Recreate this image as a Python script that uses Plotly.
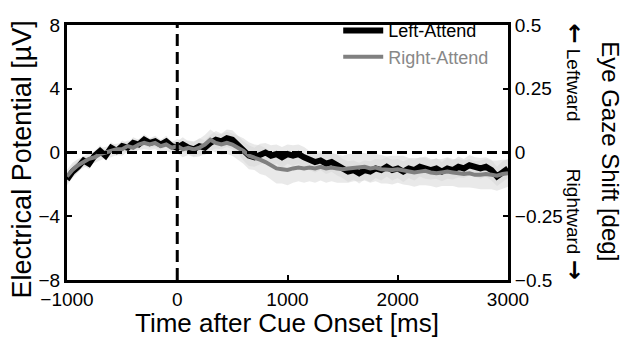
import plotly.graph_objects as go

# ---- data (µV, 50 ms grid) ----
time_ms = list(range(-1000, 3001, 50))

left_attend = [
    -1.7, -1.2, -0.9, -0.5, -0.7, -0.2, 0.1, -0.2, 0.3, 0.1,
    0.4, 0.3, 0.6, 0.5, 0.8, 0.6, 0.7, 0.5, 0.7, 0.4,
    0.3, 0.5, 0.3, 0.2, 0.4, 0.3, 0.6, 0.8, 0.7, 0.9,
    0.8, 0.5, 0.1, -0.2, -0.3, -0.1, 0.0, -0.2, -0.1, -0.3,
    -0.1, -0.2, -0.1, -0.3, -0.5, -0.6, -0.5, -0.7, -0.6, -0.8,
    -1.0, -1.2, -1.1, -1.3, -1.1, -1.2, -1.0, -1.1, -0.9, -1.1,
    -1.0, -1.2, -1.0, -1.1, -0.9, -1.0, -1.1, -1.0, -1.2, -1.0,
    -1.1, -0.9, -1.0, -0.8, -0.9, -1.0, -0.9, -1.1, -1.5, -1.2,
    -1.0,
]

right_attend = [
    -1.5, -1.1, -0.8, -0.6, -0.4, -0.3, -0.1, 0.0, 0.1, 0.2,
    0.2, 0.4, 0.3, 0.5, 0.6, 0.5, 0.6, 0.4, 0.5, 0.3,
    0.4, 0.2, 0.3, 0.2, 0.3, 0.5, 0.8, 0.6, 0.5, 0.6,
    0.5, 0.3, 0.1, -0.2, -0.3, -0.45, -0.6, -0.8, -1.0, -1.05,
    -1.1, -1.0, -0.95, -1.0, -0.95, -1.0, -0.9, -1.0, -0.95, -1.0,
    -1.05, -1.0, -0.95, -0.9, -0.9, -1.0, -0.95, -1.05, -1.1, -1.1,
    -1.05, -1.1, -1.2, -1.25, -1.2, -1.15, -1.25, -1.3, -1.25, -1.2,
    -1.25, -1.3, -1.35, -1.3, -1.4, -1.4, -1.35, -1.4, -1.45, -1.35,
    -1.3,
]

left_sem = [
    0.35, 0.4, 0.35, 0.3, 0.35, 0.3, 0.35, 0.3, 0.35, 0.3,
    0.35, 0.3, 0.35, 0.3, 0.35, 0.3, 0.35, 0.3, 0.35, 0.3,
    0.4, 0.45, 0.4, 0.45, 0.5, 0.45, 0.5, 0.55, 0.5, 0.55,
    0.6, 0.55, 0.6, 0.65, 0.6, 0.65, 0.6, 0.65, 0.6, 0.65,
    0.6, 0.65, 0.6, 0.65, 0.6, 0.65, 0.6, 0.65, 0.6, 0.65,
    0.6, 0.65, 0.6, 0.65, 0.6, 0.65, 0.6, 0.65, 0.6, 0.65,
    0.6, 0.65, 0.6, 0.65, 0.6, 0.65, 0.6, 0.65, 0.6, 0.65,
    0.6, 0.65, 0.6, 0.65, 0.6, 0.65, 0.6, 0.65, 0.6, 0.65,
    0.6,
]

right_sem = [
    0.4, 0.45, 0.4, 0.35, 0.4, 0.35, 0.4, 0.35, 0.4, 0.35,
    0.4, 0.35, 0.4, 0.35, 0.4, 0.35, 0.4, 0.35, 0.4, 0.35,
    0.45, 0.5, 0.45, 0.5, 0.55, 0.6, 0.65, 0.6, 0.65, 0.7,
    0.7, 0.75, 0.8, 0.85, 0.8, 0.9, 0.85, 0.9, 0.95, 0.9,
    0.95, 0.9, 0.85, 0.9, 0.85, 0.9, 0.85, 0.9, 0.85, 0.9,
    0.85, 0.9, 0.85, 0.9, 0.85, 0.9, 0.85, 0.9, 0.85, 0.9,
    0.85, 0.9, 0.85, 0.9, 0.85, 0.9, 0.85, 0.9, 0.85, 0.9,
    0.85, 0.9, 0.85, 0.9, 0.85, 0.9, 0.95, 0.9, 0.95, 0.9,
    0.85,
]

x_ticks = [-1000, 0, 1000, 2000, 3000]
y_ticks = [-8, -4, 0, 4, 8]
y2_ticks = [-0.5, -0.25, 0, 0.25, 0.5]

FONT = "Liberation Sans, Arial, Helvetica, sans-serif"
BAND = "rgba(215,215,215,0.55)"
ARROW = '<span style="font-family:DejaVu Sans;font-size:24px;font-weight:bold">{}</span>'

fig = go.Figure()

for mean, sem in ((right_attend, right_sem), (left_attend, left_sem)):
    upper = [m + s for m, s in zip(mean, sem)]
    lower = [m - s for m, s in zip(mean, sem)]
    fig.add_trace(go.Scatter(x=time_ms, y=upper, mode="lines", line=dict(width=0),
                             showlegend=False, hoverinfo="skip"))
    fig.add_trace(go.Scatter(x=time_ms, y=lower, mode="lines", line=dict(width=0),
                             fill="tonexty", fillcolor=BAND, showlegend=False, hoverinfo="skip"))

fig.add_trace(go.Scatter(x=time_ms, y=left_attend, mode="lines", name="Left-Attend",
                         line=dict(color="black", width=6)))
fig.add_trace(go.Scatter(x=time_ms, y=right_attend, mode="lines",
                         name='<span style="color:#888888">Right-Attend</span>',
                         line=dict(color="#808080", width=4)))
# invisible trace so the right axis is drawn
fig.add_trace(go.Scatter(x=[], y=[], yaxis="y2", showlegend=False, hoverinfo="skip"))

fig.add_hline(y=0, line=dict(color="black", width=3, dash="10px,5px"))
fig.add_vline(x=0, line=dict(color="black", width=3, dash="12px,6px"))

axis_common = dict(showline=True, linewidth=3, linecolor="black", showgrid=False,
                   zeroline=False, ticks="inside", ticklen=5, tickwidth=2, tickcolor="black",
                   tickfont=dict(size=19, color="black", family=FONT))

fig.update_layout(
    width=626, height=341,
    margin=dict(l=67, r=118, t=16, b=61),
    plot_bgcolor="white", paper_bgcolor="white",
    font=dict(family=FONT, color="black"),
    xaxis=dict(range=[-1000, 3000], tickvals=x_ticks, mirror=True, **axis_common),
    yaxis=dict(range=[-8, 8], tickvals=y_ticks, mirror=True, **axis_common),
    yaxis2=dict(range=[-0.5, 0.5], tickvals=y2_ticks, overlaying="y", side="right",
                **axis_common),
    legend=dict(x=0.615, y=1.05, xanchor="left", yanchor="top", bgcolor="rgba(0,0,0,0)",
                font=dict(size=18, family=FONT, color="black"), itemwidth=40,
                tracegroupgap=0, traceorder="normal"),
    showlegend=True,
    annotations=[
        dict(text="Time after Cue Onset [ms]", x=0.499, y=-0.167, xref="paper", yref="paper",
             showarrow=False, xanchor="center", yanchor="middle", font=dict(size=26)),
        dict(text="Electrical Potential [µV]", x=-0.102, y=0.473, xref="paper", yref="paper",
             showarrow=False, xanchor="center", yanchor="middle", textangle=-90,
             font=dict(size=27)),
        dict(text="Eye Gaze Shift [deg]", x=1.232, y=0.504, xref="paper", yref="paper",
             showarrow=False, xanchor="center", yanchor="middle", textangle=90,
             font=dict(size=24)),
        dict(text=ARROW.format("←") + " Leftward", x=1.152, y=0.814, xref="paper",
             yref="paper", showarrow=False, xanchor="center", yanchor="middle", textangle=90,
             font=dict(size=19)),
        dict(text="Rightward " + ARROW.format("→"), x=1.152, y=0.22, xref="paper",
             yref="paper", showarrow=False, xanchor="center", yanchor="middle", textangle=90,
             font=dict(size=19)),
    ],
)

fig.write_html("out.html")
